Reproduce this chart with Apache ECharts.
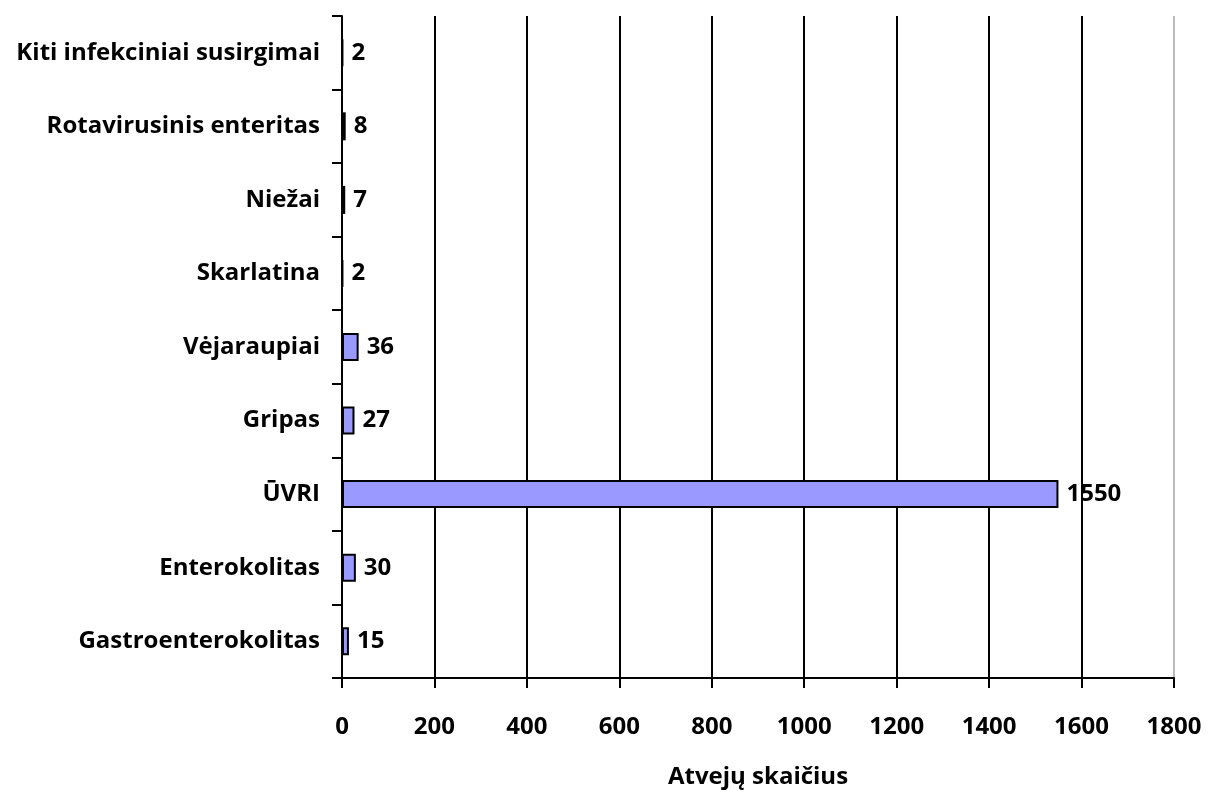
<!DOCTYPE html>
<html>
<head>
<meta charset="utf-8">
<script src="https://cdn.jsdelivr.net/npm/echarts@6/dist/echarts.min.js"></script>
<style>html,body{margin:0;padding:0;background:#fff;}#c{width:1208px;height:792px;}</style>
</head>
<body>
<div id="c"></div>
<script>
const categories = ["Gastroenterokolitas","Enterokolitas","ŪVRI","Gripas","Vėjaraupiai","Skarlatina","Niežai","Rotavirusinis enteritas","Kiti infekciniai susirgimai"];
const values = [15,30,1550,27,36,2,7,8,2];
const axisName = "Atvejų skaičius";
const xMin = 0, xMax = 1800, xStep = 200;

const FONT = "Open Sans";
const FS = 24;
const chart = echarts.init(document.getElementById('c'));
chart.setOption({
  animation: false,
  backgroundColor: '#fff',
  grid: {left: 342, right: 34, top: 16, bottom: 114, containLabel: false, outerBoundsMode: 'none'},
  xAxis: {
    type: 'value', min: xMin, max: xMax, interval: xStep,
    name: axisName, nameLocation: 'middle', nameGap: 87,
    nameTextStyle: {fontFamily: FONT, fontWeight: 'bold', fontSize: FS, color: '#000'},
    axisLine: {show: true, lineStyle: {color: '#000', width: 2}},
    axisTick: {show: true, length: 10, lineStyle: {color: '#000', width: 2}},
    axisLabel: {fontFamily: FONT, fontWeight: 'bold', fontSize: FS, color: '#000', margin: 37, formatter: v => String(v)},
    splitLine: {show: true, lineStyle: {color: ['#000','#000','#000','#000','#000','#000','#000','#000','#000','#bbb'], width: 2}}
  },
  yAxis: {
    type: 'category', data: categories,
    axisLine: {show: true, lineStyle: {color: '#000', width: 2}},
    axisTick: {show: true, length: 10, lineStyle: {color: '#000', width: 2}},
    axisLabel: {fontFamily: FONT, fontWeight: 'bold', fontSize: FS, color: '#000', margin: 22},
    splitLine: {show: false}
  },
  series: [{
    type: 'bar', data: values, barWidth: 28,
    itemStyle: {color: '#9999FF', borderColor: '#000', borderWidth: 2},
    label: {show: true, position: 'right', distance: 8, fontFamily: FONT, fontWeight: 'bold', fontSize: FS, color: '#000'}
  }]
});
</script>
</body>
</html>
